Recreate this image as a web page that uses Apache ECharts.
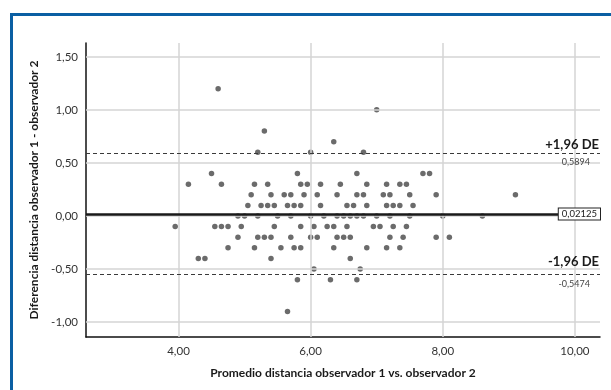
<!DOCTYPE html>
<html>
<head>
<meta charset="utf-8">
<script src="https://cdn.jsdelivr.net/npm/echarts@6/dist/echarts.min.js"></script>
<style>
html, body { margin: 0; padding: 0; background: #fff; overflow: hidden; }
#marco { position: absolute; left: 10px; top: 13px; width: 640px; height: 420px; border: 3px solid #0a5fa3; }
#grafico { position: absolute; left: 0; top: 0; width: 611px; height: 390px; }
</style>
</head>
<body>
<div id="marco"></div>
<div id="grafico"></div>
<script>
// Bland-Altman: promedio (x) vs diferencia (y) entre observadores
const promedio = [
    4.6,
    7.0,
    5.3,
    6.35,
    5.2, 6.0, 6.8,
    4.5, 5.8, 6.7, 7.7, 7.8,
    4.15, 4.65, 5.15, 5.35, 5.85, 5.95, 6.15, 6.45, 6.85, 7.15, 7.35, 7.45,
    5.1, 5.4, 5.6, 5.7, 5.9, 6.1, 6.4, 6.7, 6.8, 7.1, 7.2, 7.5, 7.9, 9.1,
    5.05, 5.25, 5.35, 5.45, 5.65, 5.75, 5.85, 6.15, 6.55, 6.65, 6.85, 7.15, 7.25, 7.35, 7.55,
    4.9, 5.0, 5.2, 5.5, 5.7, 6.0, 6.2, 6.4, 6.5, 6.6, 6.7, 6.8, 7.0, 7.2, 7.5, 8.0, 8.6,
    3.95, 4.55, 4.65, 4.75, 4.95, 5.45, 5.85, 6.05, 6.25, 6.35, 6.55, 6.95, 7.05, 7.25, 7.45,
    4.9, 5.2, 5.3, 5.4, 5.7, 6.0, 6.1, 6.4, 6.5, 6.6, 7.2, 7.4, 7.9, 8.1,
    4.75, 5.15, 5.55, 5.75, 5.85, 6.35, 6.85, 7.15, 7.35,
    4.3, 4.4, 5.4, 6.6,
    6.05, 6.75,
    5.8, 6.3, 6.7,
    5.65
];
const diferencia = [
    1.2,
    1.0,
    0.8,
    0.7,
    0.6, 0.6, 0.6,
    0.4, 0.4, 0.4, 0.4, 0.4,
    0.3, 0.3, 0.3, 0.3, 0.3, 0.3, 0.3, 0.3, 0.3, 0.3, 0.3, 0.3,
    0.2, 0.2, 0.2, 0.2, 0.2, 0.2, 0.2, 0.2, 0.2, 0.2, 0.2, 0.2, 0.2, 0.2,
    0.1, 0.1, 0.1, 0.1, 0.1, 0.1, 0.1, 0.1, 0.1, 0.1, 0.1, 0.1, 0.1, 0.1, 0.1,
    0, 0, 0, 0, 0, 0, 0, 0, 0, 0, 0, 0, 0, 0, 0, 0, 0,
    -0.1, -0.1, -0.1, -0.1, -0.1, -0.1, -0.1, -0.1, -0.1, -0.1, -0.1, -0.1, -0.1, -0.1, -0.1,
    -0.2, -0.2, -0.2, -0.2, -0.2, -0.2, -0.2, -0.2, -0.2, -0.2, -0.2, -0.2, -0.2, -0.2,
    -0.3, -0.3, -0.3, -0.3, -0.3, -0.3, -0.3, -0.3, -0.3,
    -0.4, -0.4, -0.4, -0.4,
    -0.5, -0.5,
    -0.6, -0.6, -0.6,
    -0.9
];

const media = 0.02125;
const limSup = 0.5894;
const limInf = -0.5474;

const xTicks = [4, 6, 8, 10];
const yTicks = [-1, -0.5, 0, 0.5, 1, 1.5];

const fuente = 'Lato, "Noto Sans", sans-serif';
const coma = (v, d) => v.toFixed(d).replace('.', ',');

const puntos = promedio.map((x, i) => [x, diferencia[i]]);

const lineaDE = {type: [4, 3], color: '#3a3a3a', width: 1.2};
const invisible = {type: 'solid', color: 'rgba(0,0,0,0)', width: 1};

let myChart = echarts.init(document.getElementById('grafico'));

const option = {
    animation: false,
    textStyle: {fontFamily: fuente},
    grid: {left: 86, right: 11, top: 43, bottom: 53},
    xAxis: {
        type: 'value',
        min: 2.6,
        max: 10.38,
        name: 'Promedio distancia observador 1 vs. observador 2',
        nameLocation: 'middle',
        nameGap: 30,
        nameTextStyle: {fontSize: 12, fontWeight: 'bold', color: '#1a1a1a', fontFamily: fuente},
        axisLine: {show: true, onZero: false, lineStyle: {color: '#111', width: 1.5}},
        axisTick: {show: false},
        splitLine: {show: false},
        axisLabel: {
            customValues: xTicks,
            formatter: (v) => coma(v, 2),
            fontSize: 11.5,
            color: '#333',
            margin: 8,
        },
    },
    yAxis: {
        type: 'value',
        min: -1.14,
        max: 1.63,
        name: 'Diferencia distancia observador 1 - observador 2',
        nameLocation: 'middle',
        nameGap: 44,
        nameTextStyle: {fontSize: 12, fontWeight: 'bold', color: '#1a1a1a', fontFamily: fuente},
        axisLine: {show: true, onZero: false, lineStyle: {color: '#111', width: 1.5}},
        axisTick: {show: false},
        splitLine: {show: false},
        axisLabel: {
            customValues: yTicks,
            formatter: (v) => coma(v, 2),
            fontSize: 11.5,
            color: '#333',
            margin: 8,
        },
    },
    series: [
        {
            // rejilla
            type: 'scatter',
            data: [],
            silent: true,
            z: 1,
            markLine: {
                symbol: 'none',
                silent: true,
                animation: false,
                label: {show: false},
                lineStyle: {color: '#d4d4d4', width: 1.5, type: 'solid'},
                data: xTicks.map((v) => ({xAxis: v})).concat(yTicks.map((v) => ({yAxis: v}))),
            },
        },
        {
            type: 'scatter',
            data: puntos,
            symbolSize: 5.5,
            itemStyle: {color: '#6b6b6b', opacity: 1},
            z: 3,
        },
        {
            type: 'scatter',
            data: [],
            silent: true,
            z: 4,
            markLine: {
                symbol: 'none',
                silent: true,
                animation: false,
                data: [
                    {
                        yAxis: limSup,
                        lineStyle: lineaDE,
                        label: {show: true, position: 'insideEndTop', formatter: '+1,96 DE', fontSize: 13, fontWeight: 'bold', color: '#1a1a1a', distance: [1, 2]},
                    },
                    {
                        yAxis: limSup + 0.0001,
                        lineStyle: invisible,
                        label: {show: true, position: 'insideEndBottom', formatter: coma(limSup, 4), fontSize: 9, color: '#444', distance: [10, 4]},
                    },
                    {
                        yAxis: media,
                        lineStyle: {type: 'solid', color: '#1a1a1a', width: 2.5},
                        label: {
                            show: true, position: 'insideEnd', formatter: coma(media, 5), fontSize: 9.5, color: '#222',
                            backgroundColor: '#fff', borderColor: '#222', borderWidth: 1, padding: [1, 3, 0, 3], distance: 0,
                        },
                    },
                    {
                        yAxis: limInf,
                        lineStyle: lineaDE,
                        label: {show: true, position: 'insideEndTop', formatter: '-1,96 DE', fontSize: 13, fontWeight: 'bold', color: '#1a1a1a', distance: [1, 6]},
                    },
                    {
                        yAxis: limInf - 0.0001,
                        lineStyle: invisible,
                        label: {show: true, position: 'insideEndBottom', formatter: coma(limInf, 4), fontSize: 9, color: '#444', distance: [10, 5]},
                    },
                ],
            },
        },
    ],
};
myChart.setOption(option);
</script>
</body>
</html>
